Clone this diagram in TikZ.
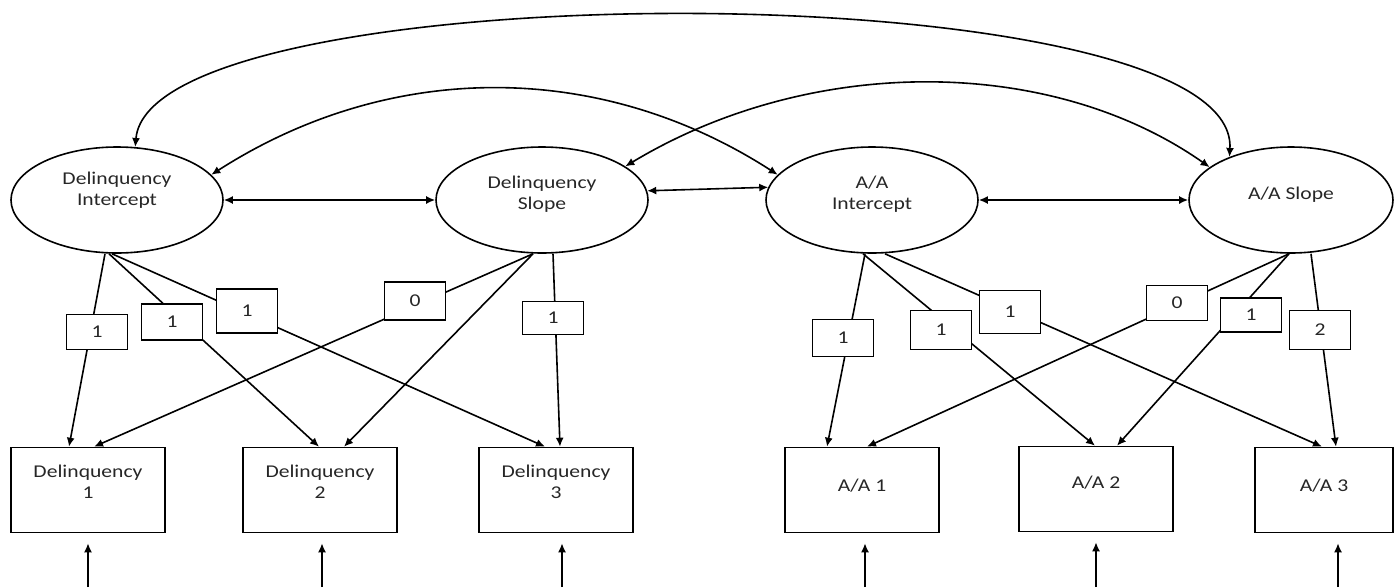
\documentclass[tikz,border=0pt]{standalone}
\usepackage{fontspec}
\setmainfont{Carlito}[FakeStretch=1.2]
\usetikzlibrary{shapes.geometric,arrows.meta,calc}
\begin{document}
\begin{tikzpicture}[x=1pt,y=-1pt,
  every node/.style={font=\fontsize{18}{21}\selectfont,text=black!85},
  latent/.style={ellipse,draw,line width=1.6pt,minimum width=212pt,minimum height=106pt,
                 inner sep=0pt,align=center},
  obs/.style={rectangle,draw,line width=1.6pt,minimum width=154pt,minimum height=85pt,
              inner sep=0pt,align=center},
  wt/.style={rectangle,draw,fill=white,line width=1.6pt,minimum width=61pt,
             minimum height=37pt,inner sep=0pt},
  link/.style={line width=1.6pt,-{Latex[length=9pt,width=8pt]}},
  both/.style={line width=1.6pt,{Latex[length=9pt,width=8pt]}-{Latex[length=9pt,width=8pt]}},
]
\useasboundingbox (0,0) rectangle (1395,587);

% latent growth factors
\node[latent,text height=11pt,text depth=0pt] (DI) at (117,200) {Delinquency\\Intercept};
\node[latent,text height=19pt,text depth=0pt] (DS) at (542,200) {Delinquency\\Slope};
\node[latent,text height=19pt,text depth=0pt] (AI) at (872,200) {A/A\\Intercept};
\node[latent,minimum width=204pt,text height=12pt,text depth=14pt] (AS) at (1291,200) {A/A Slope};

% observed indicators
\node[obs,text height=17pt,text depth=0pt] (D1) at (88,490) {Delinquency\\1};
\node[obs,text height=17pt,text depth=0pt] (D2) at (320,490) {Delinquency\\2};
\node[obs,text height=17pt,text depth=0pt] (D3) at (556,490) {Delinquency\\3};
\node[obs,text height=12pt,text depth=10pt] (AA1) at (862,490) {A/A 1};
\node[obs,text height=12pt,text depth=14pt] (AA2) at (1096,489) {A/A 2};
\node[obs,minimum width=138pt,text height=12pt,text depth=10pt] (AA3) at (1324,490) {A/A 3};

% covariances among growth factors
\draw[both] (DI.71) .. controls (150,-30) and (1240,-30) .. (AS.145);
\draw[both] (DI.15) .. controls (390,60) and (600,60) .. (AI.165);
\draw[both] (DS.22) .. controls (810,55) and (1050,55) .. (AS.158);
\draw[both] (DI.east) -- (DS.west);
\draw[both] (DS.5) -- (AI.173);
\draw[both] (AI.east) -- (AS.west);

% factor loadings, delinquency
\draw[link] ($(DI.south)+(-12pt,0pt)$) -- ($(D1.north)+(-19pt,0pt)$);
\draw[link] ($(DS.south)+(-9pt,0pt)$)  -- ($(D1.north)+(6pt,0pt)$);
\draw[link] ($(DI.south)+(-8pt,0pt)$)  -- ($(D2.north)+(-1pt,0pt)$);
\draw[link] ($(DS.south)+(-9pt,0pt)$)  -- ($(D2.north)+(24pt,0pt)$);
\draw[link] ($(DI.south)+(-5pt,0pt)$)  -- ($(D3.north)+(-11pt,0pt)$);
\draw[link] ($(DS.south)+(11pt,0pt)$)  -- ($(D3.north)+(4pt,0pt)$);

% factor loadings, A/A
\draw[link] ($(AI.south)+(-7pt,0pt)$)  -- ($(AA1.north)+(-35pt,0pt)$);
\draw[link] ($(AS.south)+(-2pt,0pt)$)  -- ($(AA1.north)+(5pt,0pt)$);
\draw[link] ($(AI.south)+(-9pt,0pt)$)  -- ($(AA2.north)+(-1pt,0pt)$);
\draw[link] ($(AS.south)+(-2pt,0pt)$)  -- ($(AA2.north)+(21pt,0pt)$);
\draw[link] ($(AI.south)+(13pt,0pt)$)  -- ($(AA3.north)+(-2pt,0pt)$);
\draw[link] ($(AS.south)+(20pt,0pt)$)  -- ($(AA3.north)+(12pt,0pt)$);

% loading values
\node[wt,minimum height=35pt] (w1) at (97,332) {1};
\node[wt,minimum height=36pt] (w2) at (172,322) {1};
\node[wt,minimum height=44pt] (w3) at (247,311) {1};
\node[wt,minimum height=38pt] (w4) at (415,301) {0};
\node[wt,minimum height=33pt] (w5) at (553,318) {1};
\node[wt] (w6) at (843,338) {1};
\node[wt,minimum height=39pt] (w7) at (941,330) {1};
\node[wt,minimum height=43pt] (w8) at (1010,312) {1};
\node[wt,minimum height=35pt] (w9) at (1177,303) {0};
\node[wt,minimum height=34pt] (w10) at (1251,315) {1};
\node[wt,minimum height=39pt] (w11) at (1320,330) {2};

% residual arrows
\coordinate (u1) at (88,587);
\coordinate (u2) at (322,587);
\coordinate (u3) at (562,587);
\coordinate (u4) at (865,587);
\coordinate (u5) at (1096,587);
\coordinate (u6) at (1338,587);
\draw[link,shorten >=10pt] (u1) -- (u1 |- D1.south);
\draw[link,shorten >=10pt] (u2) -- (u2 |- D2.south);
\draw[link,shorten >=10pt] (u3) -- (u3 |- D3.south);
\draw[link,shorten >=10pt] (u4) -- (u4 |- AA1.south);
\draw[link,shorten >=10pt] (u5) -- (u5 |- AA2.south);
\draw[link,shorten >=10pt] (u6) -- (u6 |- AA3.south);
\end{tikzpicture}
\end{document}
